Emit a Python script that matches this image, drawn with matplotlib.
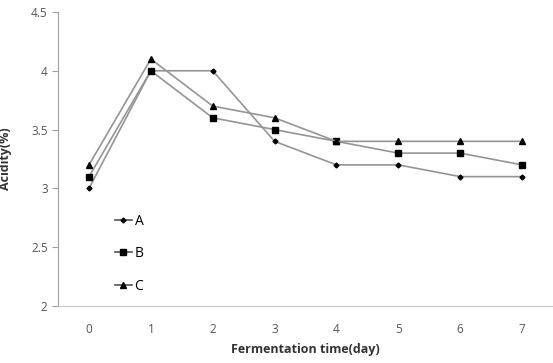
import numpy as np
import matplotlib.pyplot as plt

days = [0, 1, 2, 3, 4, 5, 6, 7]
a_vals = [3.0, 4.0, 4.0, 3.4, 3.2, 3.2, 3.1, 3.1]
b_vals = [3.1, 4.0, 3.6, 3.5, 3.4, 3.3, 3.3, 3.2]
c_vals = [3.2, 4.1, 3.7, 3.6, 3.4, 3.4, 3.4, 3.4]
y_ticks = [2, 2.5, 3, 3.5, 4, 4.5]

plt.rcParams['font.family'] = ['Open Sans', 'DejaVu Sans']

fig = plt.figure(figsize=(5.53, 3.63), dpi=100)
ax = fig.add_axes([0.105, 0.157, 0.895, 0.81])

lc = '#959595'
ax.plot(days, a_vals, color=lc, lw=1.2, marker='D', ms=2.5, mfc='black', mec='black', label='A')
ax.plot(days, b_vals, color=lc, lw=1.2, marker='s', ms=4.2, mfc='black', mec='black', label='B')
ax.plot(days, c_vals, color=lc, lw=1.2, marker='^', ms=3.8, mfc='black', mec='black', label='C')

ax.set_xlim(-0.5, 7.5)
ax.set_ylim(2, 4.5)
ax.set_xticks(days)
ax.set_yticks(y_ticks)
ax.set_yticklabels(['2', '2.5', '3', '3.5', '4', '4.5'])

for s in ['top', 'right']:
    ax.spines[s].set_visible(False)
ax.spines['left'].set_color('#a0a0a0')
ax.spines['bottom'].set_color('#c8c8c8')
ax.tick_params(axis='y', colors='#a0a0a0', labelcolor='#555555', labelsize=8.5, length=4)
ax.tick_params(axis='x', length=0, labelcolor='#555555', labelsize=8.5, pad=12)

ax.set_xlabel('Fermentation time(day)', fontsize=9, fontweight='bold', color='#333333', labelpad=5)
ax.set_ylabel('Acidity(%)', fontsize=9, fontweight='bold', color='#333333', labelpad=14)

leg = ax.legend(loc='lower left', bbox_to_anchor=(0.09, 0.0), frameon=False, fontsize=10,
                handlelength=1.2, labelspacing=1.25, handletextpad=0.2)
for h in leg.legend_handles:
    h.set_color('#555555')
    h.set_markerfacecolor('black')
    h.set_markeredgecolor('black')

fig.savefig('out.png', dpi=100)
